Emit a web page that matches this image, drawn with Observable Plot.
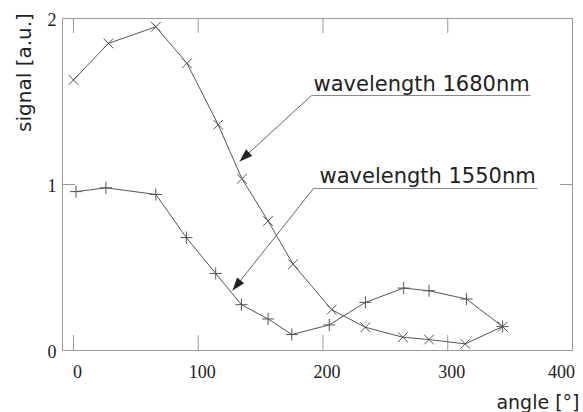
<!DOCTYPE html>
<html><head><meta charset="utf-8">
<script src="https://cdn.jsdelivr.net/npm/d3@7"></script>
<script src="https://cdn.jsdelivr.net/npm/@observablehq/plot@0.6"></script>
<style>body{margin:0;background:#fff}</style>
</head><body><div id="chart"></div>
<script>
// --- data ---
const angle1680  = [0, 28, 66, 91, 116, 135, 156, 176, 207, 234, 264, 285, 314, 344];
const signal1680 = [1.63, 1.85, 1.95, 1.73, 1.36, 1.035, 0.78, 0.52, 0.246, 0.14, 0.08, 0.066, 0.04, 0.144];
const angle1550  = [2, 26, 66, 90.5, 114, 134.6, 156, 175, 205, 234, 264.7, 285, 315, 344];
const signal1550 = [0.957, 0.98, 0.94, 0.68, 0.464, 0.276, 0.19, 0.096, 0.154, 0.29, 0.376, 0.36, 0.31, 0.144];
const xTicks = [0, 100, 200, 300, 400];
const xTicksInner = [0, 100, 200, 300];
const xTicksLast = [400];
const yTicks = [0, 1, 2];
const innerYTicks = [1];
const labels = ["wavelength 1680nm", "wavelength 1550nm"];
// annotation anchors (data units)
const labelAngle = [192.4, 197.2];
const labelSignal = [1.566, 1.012];
const lineStartAngle = [190.8, 192.4];
const lineEndAngle = [366.3, 371.9];
const lineSignal = [1.536, 0.976];
const tipAngle = [133.1, 127.5];
const tipSignal = [1.139, 0.361];

const xDomain = [-8.8, 400];
const yDomain = [0, 2];
const W = 583, H = 412, mL = 62, mR = 11, mT = 18, mB = 62;

const d1680 = angle1680.map((a, i) => ({angle: a, signal: signal1680[i]}));
const d1550 = angle1550.map((a, i) => ({angle: a, signal: signal1550[i]}));
const annos = labels.map((t, i) => ({
  text: t, lx: labelAngle[i], ly: labelSignal[i],
  x1: lineStartAngle[i], x2: lineEndAngle[i], y: lineSignal[i],
  tx: tipAngle[i], ty: tipSignal[i]
}));

// compute arrowhead rotation through Plot scales
const sx = Plot.scale({x: {domain: xDomain, range: [mL, W - mR]}});
const sy = Plot.scale({y: {domain: yDomain, range: [H - mB, mT]}});
annos.forEach(a => {
  const dx = sx.apply(a.tx) - sx.apply(a.x1);
  const dy = sy.apply(a.ty) - sy.apply(a.y);
  a.rot = Math.atan2(dy, dx) * 180 / Math.PI + 90;
});

const arrowHead = {
  draw(ctx) { ctx.moveTo(0, 0); ctx.lineTo(-4.5, 13); ctx.lineTo(4.5, 13); ctx.closePath(); }
};

const ink = "#555";
const innerW = W - mL - mR, innerH = H - mT - mB;
const tickFont = {fontSize: 18, fontFamily: "Liberation Serif", fill: "#222", label: null, tickFormat: d3.format("d")};

const chart = Plot.plot({
  width: W, height: H,
  marginLeft: mL, marginRight: mR, marginTop: mT, marginBottom: mB,
  x: {domain: xDomain, axis: null},
  y: {domain: yDomain, axis: null},
  style: {background: "#fff", color: "#222"},
  marks: [
    Plot.frame({stroke: "#999", strokeWidth: 1}),
    // inward ticks
    Plot.tickX(xTicks, {x: d => d, insetTop: innerH - 15, stroke: "#999"}),
    Plot.tickX(xTicks, {x: d => d, insetBottom: innerH - 15, stroke: "#999"}),
    Plot.tickY(innerYTicks, {y: d => d, insetRight: innerW - 13, stroke: "#999"}),
    Plot.tickY(innerYTicks, {y: d => d, insetLeft: innerW - 12, stroke: "#999"}),
    Plot.axisX(xTicksInner, {tickSize: 0, tickPadding: 15, dx: 4, ...tickFont}),
    Plot.axisX(xTicksLast, {tickSize: 0, tickPadding: 15, dx: -11, ...tickFont}),
    Plot.axisY(yTicks, {tickSize: 0, tickPadding: 6, dy: 2, ...tickFont}),
    // data
    Plot.line(d1680, {x: "angle", y: "signal", stroke: ink, strokeWidth: 1}),
    Plot.dot(d1680, {x: "angle", y: "signal", symbol: "times", r: 4.5, stroke: ink, strokeWidth: 1}),
    Plot.line(d1550, {x: "angle", y: "signal", stroke: ink, strokeWidth: 1}),
    Plot.dot(d1550, {x: "angle", y: "signal", symbol: "plus", r: 4, stroke: ink, strokeWidth: 1}),
    // annotations
    Plot.link(annos, {x1: "x1", x2: "x2", y1: "y", y2: "y", stroke: "#888", strokeWidth: 1}),
    Plot.link(annos, {x1: "x1", y1: "y", x2: "tx", y2: "ty", stroke: "#666", strokeWidth: 1}),
    Plot.dot(annos, {x: "tx", y: "ty", symbol: arrowHead, r: 5, fill: "#222", stroke: "none", rotate: "rot"}),
    Plot.text(annos, {x: "lx", y: "ly", text: "text", textAnchor: "start", lineAnchor: "bottom", fontSize: 21, fontFamily: "DejaVu Sans", fill: "#222"}),
    // axis titles
    Plot.text(["signal [a.u.]"], {frameAnchor: "top-left", rotate: -90, textAnchor: "middle", lineAnchor: "bottom", dx: -32, dy: 54, fontSize: 20, fontFamily: "DejaVu Sans", fill: "#222"}),
    Plot.text(["angle [°]"], {frameAnchor: "bottom-right", textAnchor: "end", lineAnchor: "bottom", dx: 7, dy: 58, fontSize: 19, fontFamily: "DejaVu Sans", fill: "#222"})
  ]
});
document.getElementById("chart").appendChild(chart);
</script>
</body></html>
